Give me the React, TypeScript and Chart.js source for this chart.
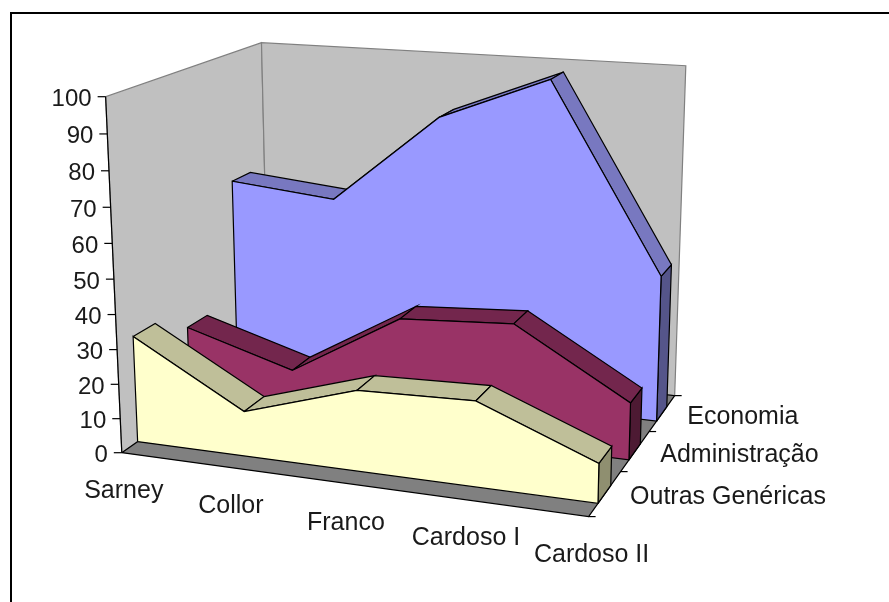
import React, { useEffect, useRef } from "react";
import { Chart, registerables } from "chart.js";

Chart.register(...registerables);

const categories = ["Sarney", "Collor", "Franco", "Cardoso I", "Cardoso II"];
const seriesNames = ["Economia", "Administração", "Outras Genéricas"];
const economia = [61, 58, 85, 98, 43.5];
const administracao = [24, 14.5, 33.5, 35.5, 16.5];
const outras = [31, 13, 23, 24, 11];
const yTicks = [0, 10, 20, 30, 40, 50, 60, 70, 80, 90, 100];

const FONT = '25px "Liberation Sans"';
const TICK_FONT = '24px "Liberation Sans"';

// camera calibration: cube corner (X, Z, H) -> picture position
const cal: number[][] = [
  [0, 0, 0, 122, 453],
  [0, 0, 1, 106, 96],
  [1, 0, 0, 588, 517],
  [1, 1, 0, 675, 395],
  [1, 1, 1, 686, 66],
  [0, 1, 1, 261, 43],
];

function solve(A: number[][], b: number[]) {
  const n = b.length;
  const M = A.map((r, i) => [...r, b[i]]);
  for (let c = 0; c < n; c++) {
    let p = c;
    for (let r = c + 1; r < n; r++) if (Math.abs(M[r][c]) > Math.abs(M[p][c])) p = r;
    [M[c], M[p]] = [M[p], M[c]];
    for (let r = 0; r < n; r++) {
      if (r === c) continue;
      const f = M[r][c] / M[c][c];
      for (let k = c; k <= n; k++) M[r][k] -= f * M[c][k];
    }
  }
  return M.map((r, i) => r[n] / r[i]);
}

function fit() {
  const rows: number[][] = [];
  const rhs: number[] = [];
  for (const [X, Z, H, x, y] of cal) {
    const s = 1 / 500;
    rows.push([X, H, Z, 1, 0, 0, 0, 0, -x * s * X, -x * s * H, -x * s * Z]);
    rhs.push(x * s);
    rows.push([0, 0, 0, 0, X, H, Z, 1, -y * s * X, -y * s * H, -y * s * Z]);
    rhs.push(y * s);
  }
  const n = 11;
  const ATA = Array.from({ length: n }, (_, i) =>
    Array.from({ length: n }, (_, j) => rows.reduce((t, r) => t + r[i] * r[j], 0))
  );
  const ATb = Array.from({ length: n }, (_, i) => rows.reduce((t, r, k) => t + r[i] * rhs[k], 0));
  return solve(ATA, ATb);
}
const P = fit();
function project(X: number, Z: number, value: number) {
  const H = value / 100;
  const w = P[8] * X + P[9] * H + P[10] * Z + 1;
  return {
    x: (500 * (P[0] * X + P[1] * H + P[2] * Z + P[3])) / w,
    y: (500 * (P[4] * X + P[5] * H + P[6] * Z + P[7])) / w,
  };
}

const BAND_FRONT = 0.073;
const BAND_BACK = 0.06;
const centers = [5 / 6, 1 / 2, 1 / 6];
const values = [economia, administracao, outras];
const faceColors = ["#9999FF", "#993366", "#FFFFCC"];
const topColors = ["#7878C0", "#73264D", "#BFBF99"];
const sideColors = ["#55558A", "#4D1A33", "#8F8F70"];

type Poly = { pts: { x: number; y: number }[]; fill: string | null; stroke: string };

function buildPolys(): Poly[] {
  const out: Poly[] = [];
  const quad = (a: number[][], fill: string | null, stroke: string) =>
    out.push({ pts: a.map(([X, Z, V]) => project(X, Z, V)), fill, stroke });
  quad([[0, 0, 0], [0, 0, 100], [0, 1, 100], [0, 1, 0]], "#C0C0C0", "#808080");
  quad([[0, 1, 0], [0, 1, 100], [1, 1, 100], [1, 1, 0]], "#C0C0C0", "#808080");
  quad([[0, 0, 0], [1, 0, 0], [1, 1, 0], [0, 1, 0]], "#808080", "#000000");
  values.forEach((vals, s) => {
    const z0 = centers[s] - BAND_FRONT;
    const z1 = centers[s] + BAND_BACK;
    const n = vals.length - 1;
    quad([[1, z0, 0], [1, z1, 0], [1, z1, vals[n]], [1, z0, vals[n]]], sideColors[s], "#000000");
    vals.slice(0, n).forEach((v, i) => {
      quad(
        [[i / n, z0, v], [(i + 1) / n, z0, vals[i + 1]], [(i + 1) / n, z1, vals[i + 1]], [i / n, z1, v]],
        topColors[s],
        "#000000"
      );
    });
    quad([[0, z0, 0], [1, z0, 0], ...vals.map((v, i) => [i / n, z0, v]).reverse()], faceColors[s], "#000000");
  });
  return out;
}

const polyPlugin = {
  id: "poly",
  beforeDatasetDraw(chart: any, args: any) {
    const ds = chart.data.datasets[args.index];
    if (!ds.polyFill) return;
    const pts = args.meta.data;
    const c = chart.ctx;
    c.save();
    c.beginPath();
    pts.forEach((p: any, i: number) => (i ? c.lineTo(p.x, p.y) : c.moveTo(p.x, p.y)));
    c.closePath();
    c.fillStyle = ds.polyFill;
    c.fill();
    c.restore();
  },
  beforeDatasetsDraw(chart: any) {
    const c = chart.ctx;
    c.save();
    c.fillStyle = "#000";
    c.fillRect(10, 12, 879, 2);
    c.fillRect(10, 12, 2, 590);
    c.restore();
  },
  afterDatasetsDraw(chart: any) {
    const c = chart.ctx;
    c.save();
    c.fillStyle = "#1a1a1a";
    c.strokeStyle = "#000";
    c.lineWidth = 1.2;
    c.font = TICK_FONT;
    c.textAlign = "right";
    const a0 = project(0, 0, 0), a1 = project(0, 0, 100);
    c.beginPath(); c.moveTo(a0.x, a0.y); c.lineTo(a1.x, a1.y); c.stroke();
    yTicks.forEach((t) => {
      const p = project(0, 0, t);
      c.beginPath(); c.moveTo(p.x - 8, p.y); c.lineTo(p.x, p.y); c.stroke();
      c.fillText(String(t), p.x - 14, p.y + 9.5);
    });
    [0, 1 / 3, 2 / 3, 1].forEach((z) => {
      const p = project(1, z, 0);
      c.beginPath(); c.moveTo(p.x, p.y); c.lineTo(p.x + 7, p.y); c.stroke();
    });
    c.font = FONT;
    c.textAlign = "center";
    const dx = [2, 0, 1, 2, 3];
    const dy = [45, 45, 47, 45, 45];
    categories.forEach((t, i) => {
      const p = project(i / 4, 0, 0);
      c.fillText(t, p.x + dx[i], p.y + dy[i]);
    });
    c.textAlign = "left";
    seriesNames.forEach((t, s) => {
      const p = project(1, centers[s], 0);
      c.fillText(t, p.x + 25, p.y + 11);
    });
    c.restore();
  },
};

export default function App() {
  const ref = useRef<HTMLCanvasElement>(null);
  useEffect(() => {
    const polys = buildPolys();
    const datasets = polys
      .map((p) => ({
        data: [...p.pts, p.pts[0]],
        polyFill: p.fill,
        borderColor: p.stroke,
        borderWidth: 1.2,
        showLine: true,
        pointRadius: 0,
        fill: false,
        tension: 0,
        clip: false,
      }))
      .reverse();
    const chart = new Chart(ref.current!, {
      type: "scatter",
      data: { datasets } as any,
      plugins: [polyPlugin],
      options: {
        animation: false,
        responsive: false,
        layout: { padding: 0 },
        plugins: { legend: { display: false }, tooltip: { enabled: false } },
        scales: {
          x: { type: "linear", min: 0, max: 889, display: false },
          y: { type: "linear", min: 0, max: 602, reverse: true, display: false },
        },
      },
    } as any);
    return () => chart.destroy();
  }, []);
  return (
    <div style={{ position: "absolute", left: 0, top: 0, width: 889, height: 602, background: "#fff" }}>
      <canvas ref={ref} width={889} height={602} style={{ display: "block" }} />
    </div>
  );
}
